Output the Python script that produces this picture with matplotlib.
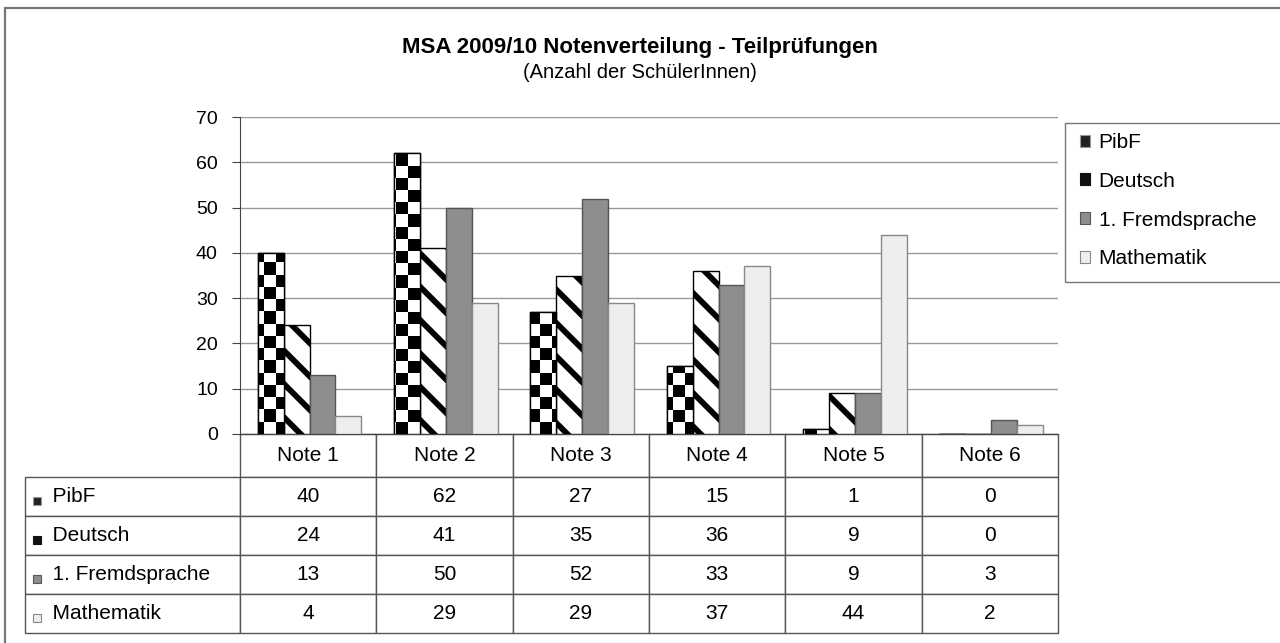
import numpy as np
import matplotlib
matplotlib.use('Agg')
import matplotlib.pyplot as plt
from matplotlib.patches import Rectangle, Patch

plt.rcParams['font.family'] = ['Liberation Sans', 'DejaVu Sans']
plt.rcParams['hatch.linewidth'] = 4.2

# data
noten = ['Note 1', 'Note 2', 'Note 3', 'Note 4', 'Note 5', 'Note 6']
faecher = ['PibF', 'Deutsch', '1. Fremdsprache', 'Mathematik']
pibf = [40, 62, 27, 15, 1, 0]
deutsch = [24, 41, 35, 36, 9, 0]
fremd = [13, 50, 52, 33, 9, 3]
mathe = [4, 29, 29, 37, 44, 2]
werte = [pibf, deutsch, fremd, mathe]

W, H = 1280, 643
fig = plt.figure(figsize=(W / 100, H / 100), dpi=100)

def fx(px):
    return px / W

def fy(py):
    return 1 - py / H

# outer frame (runs off the right/bottom edge like the screenshot)
fig.patches.append(Rectangle((fx(5), fy(660)), fx(1300), fy(8) - fy(660),
                             transform=fig.transFigure, fill=False,
                             edgecolor='#777777', lw=1.6))

ax = fig.add_axes([fx(240), fy(434), fx(1058) - fx(240), fy(117) - fy(434)])

x = np.arange(len(noten))
bw = 0.19
offs = [(k - 1.5) * bw + 0.01 for k in range(4)]

# checkerboard texture for PibF, clipped to each bar
nx, ny = 68, 26
checker = np.add.outer(np.arange(ny), np.arange(nx)) % 2
b_pibf = ax.bar(x + offs[0], pibf, bw, color='white', edgecolor='black', lw=1, zorder=3)
for r in b_pibf:
    im = ax.imshow(checker, cmap='gray', extent=(-0.5, 5.5, 0, 70), aspect='auto',
                   interpolation='nearest', zorder=3.5)
    im.set_clip_path(r)
ax.bar(x + offs[0], pibf, bw, fill=False, edgecolor='black', lw=1, zorder=4)

ax.bar(x + offs[1], deutsch, bw, color='white', edgecolor='black', hatch='\\', lw=1, zorder=3)
ax.bar(x + offs[2], fremd, bw, color='#8e8e8e', edgecolor='#555555', lw=1, zorder=3)
ax.bar(x + offs[3], mathe, bw, color='#eeeeee', edgecolor='#888888', lw=1, zorder=3)

ax.set_xlim(-0.5, 5.5)
ax.set_ylim(0, 70)
ax.set_yticks(range(0, 71, 10))
ax.yaxis.grid(True, color='#999999', lw=1)
ax.set_axisbelow(True)
ax.set_xticks([])
for s in ['top', 'right']:
    ax.spines[s].set_visible(False)
ax.spines['left'].set_color('#444444')
ax.spines['bottom'].set_color('#444444')
ax.tick_params(axis='y', length=6, color='#444444', labelsize=14, pad=10)

# data table
cell_text = [['  ' + f] + [str(v) for v in row] for f, row in zip(faecher, werte)]
col_lab = [''] + noten
tab = ax.table(cellText=cell_text, colLabels=col_lab, cellLoc='center',
               colWidths=[215] + [136.3] * 6,
               bbox=[(25 - 240) / 818, -(633 - 434) / 317, (1058 - 25) / 818, (633 - 434) / 317])
tab.auto_set_font_size(False)
tab.set_fontsize(15)
for (r, c), cell in tab.get_celld().items():
    cell.set_edgecolor('#555555')
    cell.set_linewidth(1)
    cell.set_height(43 if r == 0 else 39)
    if r == 0 and c == 0:
        cell.visible_edges = ''
    if c == 0 and r > 0:
        cell._loc = 'left'
        cell.PAD = 0.075
        cell.get_text().set_horizontalalignment('left')

# small icons in front of the row labels
icon_cols = [('#222222', '#999999'), ('#111111', '#111111'), ('#8e8e8e', '#555555'), ('#eeeeee', '#888888')]
for i, (fc, ec) in enumerate(icon_cols):
    yc = 477 + 39 * i + 24
    fig.patches.append(Rectangle((fx(33), fy(yc + 4)), fx(8), fy(yc - 4) - fy(yc + 4),
                                 transform=fig.transFigure, facecolor=fc, edgecolor=ec, lw=0.8))

# legend
fig.patches.append(Rectangle((fx(1065), fy(282)), fx(240), fy(123) - fy(282),
                             transform=fig.transFigure, fill=False,
                             edgecolor='#777777', lw=1))
handles = [Patch(facecolor=fc, edgecolor=ec, lw=0.8) for fc, ec in icon_cols]
fig.legend(handles, faecher, loc='upper left', bbox_to_anchor=(fx(1080), fy(133)),
           frameon=False, fontsize=15, handlelength=0.5, handleheight=0.5,
           handletextpad=0.4, labelspacing=0.95, borderpad=0, borderaxespad=0)

fig.text(0.5, fy(47), 'MSA 2009/10 Notenverteilung - Teilprüfungen', ha='center',
         va='center', fontsize=16, fontweight='bold')
fig.text(0.5, fy(73), '(Anzahl der SchülerInnen)', ha='center', va='center', fontsize=14.5)

fig.savefig('out.png', dpi=100)
